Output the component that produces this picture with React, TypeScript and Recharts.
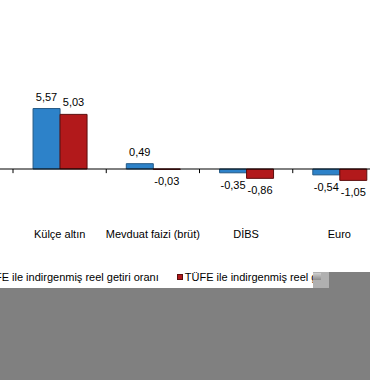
import React from 'react';
import {
  BarChart,
  Bar,
  XAxis,
  YAxis,
  ReferenceLine,
  LabelList,
  Legend,
} from 'recharts';

const categories = ['Külçe altın', 'Mevduat faizi (brüt)', 'DİBS', 'Euro'];
const ufeReal = [5.57, 0.49, -0.35, -0.54];
const tufeReal = [5.03, -0.03, -0.86, -1.05];
const seriesNames = [
  'ÜFE ile indirgenmiş reel getiri oranı',
  'TÜFE ile indirgenmiş reel getiri oranı',
];

const BLUE = '#2d82c9';
const BLUE_EDGE = '#255a86';
const RED = '#b2191b';
const RED_EDGE = '#5c0d0d';
const FONT = '"Liberation Sans", Arial, sans-serif';

const data = categories.map((name, i) => ({
  name,
  ufe: ufeReal[i],
  tufe: tufeReal[i],
}));

const fmt = (v: number) => v.toFixed(2).replace('.', ',');

function CategoryTick({ x, y, payload }: any) {
  return (
    <text
      x={x}
      y={y}
      dy="0.71em"
      textAnchor="middle"
      fontSize={11}
      fontFamily={FONT}
      fill="#000"
    >
      {payload.value}
    </text>
  );
}

function LegendBox() {
  const items = [
    { label: seriesNames[0], fill: BLUE, edge: BLUE_EDGE },
    { label: seriesNames[1], fill: RED, edge: RED_EDGE },
  ];
  return (
    <div style={{ display: 'flex', gap: 18, fontFamily: FONT, fontSize: 11, color: '#000' }}>
      {items.map((it) => (
        <div key={it.label} style={{ display: 'flex', alignItems: 'center', whiteSpace: 'nowrap' }}>
          <span
            style={{
              display: 'inline-block',
              width: 4,
              height: 4,
              background: it.fill,
              border: `1px solid ${it.edge}`,
              marginRight: 2,
            }}
          />
          {it.label}
        </div>
      ))}
    </div>
  );
}

export default function App() {
  return (
    <div
      style={{
        position: 'absolute',
        left: 0,
        top: 0,
        width: 370,
        height: 380,
        overflow: 'hidden',
        background: '#fff',
      }}
    >
      <div style={{ position: 'absolute', left: -20, top: 0 }}>
        <BarChart
          width={427}
          height={300}
          data={data}
          margin={{ top: 17, right: 0, bottom: 32, left: 0 }}
          barCategoryGap="21.5%"
          barGap={0}
        >
          <YAxis hide domain={[-5.25, 14]} />
          <XAxis
            dataKey="name"
            padding={{ left: 33, right: 21 }}
            axisLine={false}
            tickLine={false}
            tickSize={0}
            tickMargin={4}
            interval={0}
            tick={<CategoryTick />}
          />
          <Legend
            content={<LegendBox />}
            wrapperStyle={{ left: -1, top: 271, width: 'auto' }}
          />
          <ReferenceLine y={0} stroke="#000" strokeWidth={1} />
          {categories.map((c) => (
            <ReferenceLine
              key={c}
              segment={[
                { x: c, y: 0 },
                { x: c, y: -0.38 },
              ]}
              position="start"
              stroke="#000"
            />
          ))}
          <Bar
            dataKey="ufe"
            name={seriesNames[0]}
            fill={BLUE}
            stroke={BLUE_EDGE}
            isAnimationActive={false}
          >
            <LabelList
              dataKey="ufe"
              position="top"
              offset={8}
              formatter={fmt}
              fontSize={11}
              fontFamily={FONT}
              fill="#000"
            />
          </Bar>
          <Bar
            dataKey="tufe"
            name={seriesNames[1]}
            fill={RED}
            stroke={RED_EDGE}
            isAnimationActive={false}
          >
            <LabelList
              dataKey="tufe"
              position="top"
              offset={8}
              formatter={fmt}
              fontSize={11}
              fontFamily={FONT}
              fill="#000"
            />
          </Bar>
        </BarChart>
      </div>
      <div style={{ position: 'absolute', left: 0, top: 288, width: 370, height: 92, background: '#808080' }} />
      <div style={{ position: 'absolute', left: 329, top: 272, width: 41, height: 16, background: '#808080' }} />
      <div style={{ position: 'absolute', left: 313, top: 272, width: 16, height: 16, background: '#b0b0b0' }} />
      <div
        style={{
          position: 'absolute',
          left: 313,
          top: 273,
          width: 8,
          height: 7,
          background: 'linear-gradient(#d0d0d0, #8c8c8c)',
        }}
      />
    </div>
  );
}
